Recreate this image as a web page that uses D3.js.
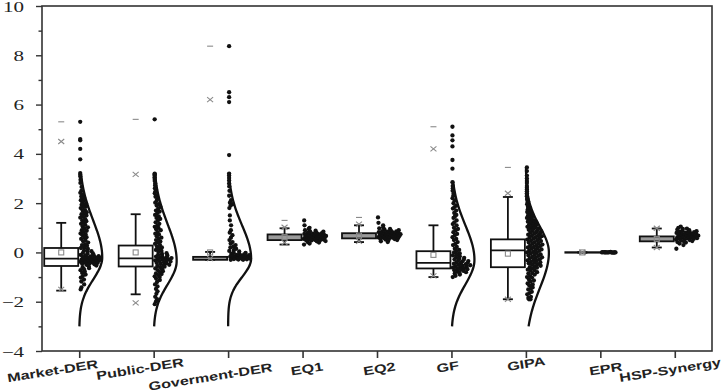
<!DOCTYPE html>
<html>
<head>
<meta charset="utf-8">
<script src="https://cdn.jsdelivr.net/npm/d3@7"></script>
<style>
  body { margin: 0; background: #fff; }
  svg { display: block; }
</style>
</head>
<body>
<div id="chart"></div>
<script>
// ---- data ----
const categories = ["Market-DER", "Public-DER", "Goverment-DER", "EQ1", "EQ2", "GF", "GIPA", "EPR", "HSP-Synergy"];
const yTickValues = [-4, -2, 0, 2, 4, 6, 8, 10];

// box statistics
const q1          = [-0.55, -0.57, -0.30, 0.50, 0.57, -0.65, -0.60, -0.01, 0.45];
const medians     = [-0.25, -0.24, -0.25, 0.62, 0.68, -0.42, 0.08, 0.00, 0.55];
const q3          = [0.18, 0.28, -0.18, 0.73, 0.78, 0.05, 0.53, 0.01, 0.65];
const whiskerLow  = [-1.55, -1.70, -0.30, 0.32, 0.42, -1.00, -1.90, -0.01, 0.20];
const whiskerHigh = [1.20, 1.55, 0.02, 0.98, 1.10, 1.10, 2.25, 0.01, 0.97];
const means       = [0.00, 0.00, 0.00, 0.62, 0.68, -0.10, -0.05, 0.00, 0.55];
const pctLow      = [-1.50, -2.05, -0.25, 0.40, 0.45, -0.95, -1.90, 0.00, 0.20];
const pctHigh     = [4.50, 3.17, 6.20, 1.02, 1.15, 4.20, 2.40, 0.00, 0.98];
const maxValues   = [5.30, 5.40, 8.37, 1.30, 1.42, 5.10, 3.45, 0.01, 1.00];

// normal curves (only the wide distributions have one)
const curveMean   = [-0.20, -0.35, -0.25, null, null, -0.30, 0.00, null, null];
const curveSdUp   = [1.50, 1.50, 1.35, null, null, 1.40, 1.05, null, null];
const curveSdDown = [0.90, 0.95, 0.75, null, null, 1.00, 1.45, null, null];
const curveTop    = [3.20, 3.25, 3.25, null, null, 2.90, 3.45, null, null];
const curveBottom = -3;

// individual observations
const marketPoints = [5.3, 4.6, 4.55, 4.2, 3.78, 3.22, 3.15, 3.08, 2.95, 2.82, 2.66, 2.5, 2.42, 2.35, 2.27, 2.22, 2.2, 2.12, 2.1, 2.05, 1.98, 1.95, 1.93, 1.86, 1.84, 1.8, 1.72, 1.7, 1.63, 1.58, 1.55, 1.5, 1.44, 1.41, 1.35, 1.3, 1.27, 1.2, 1.16, 1.12, 1.05, 1.02, 0.98, 0.9, 0.88, 0.84, 0.77, 0.74, 0.7, 0.62, 0.6, 0.55, 0.48, 0.45, 0.4, 0.33, 0.3, 0.27, 0.2, 0.18, 0.14, 0.08, 0.05, 0.03, -0.02, -0.04, -0.06, -0.1, -0.11, -0.12, -0.15, -0.16, -0.18, -0.2, -0.21, -0.22, -0.24, -0.25, -0.26, -0.28, -0.29, -0.3, -0.31, -0.32, -0.33, -0.35, -0.36, -0.37, -0.38, -0.4, -0.41, -0.42, -0.44, -0.46, -0.48, -0.5, -0.53, -0.56, -0.6, -0.64, -0.68, -0.72, -0.78, -0.83, -0.9, -0.96, -1.02, -1.1, -1.18, -1.3, -1.42, -1.5];
const publicPoints = [5.4, 3.2, 3.17, 3.12, 3.05, 2.98, 2.9, 2.8, 2.72, 2.6, 2.55, 2.48, 2.4, 2.3, 2.26, 2.18, 2.1, 2.02, 1.96, 1.9, 1.85, 1.78, 1.7, 1.66, 1.6, 1.52, 1.46, 1.4, 1.36, 1.3, 1.22, 1.16, 1.1, 1.04, 1.0, 0.94, 0.9, 0.82, 0.76, 0.72, 0.66, 0.6, 0.55, 0.5, 0.44, 0.4, 0.35, 0.3, 0.24, 0.2, 0.15, 0.1, 0.06, 0.02, -0.03, -0.06, -0.1, -0.12, -0.15, -0.17, -0.2, -0.21, -0.23, -0.25, -0.27, -0.28, -0.3, -0.32, -0.33, -0.35, -0.37, -0.4, -0.42, -0.44, -0.46, -0.5, -0.52, -0.55, -0.58, -0.6, -0.65, -0.68, -0.72, -0.76, -0.8, -0.85, -0.88, -0.92, -0.97, -1.0, -1.06, -1.12, -1.2, -1.3, -1.38, -1.48, -1.58, -1.68, -1.8, -1.9, -2.0, -2.1];
const govPoints = [8.37, 6.5, 6.3, 6.1, 3.95, 3.2, 3.12, 3.02, 2.92, 2.8, 2.68, 2.5, 2.3, 2.12, 2.02, 1.96, 1.9, 1.8, 1.5, 1.3, 1.1, 0.9, 0.8, 0.7, 0.6, 0.5, 0.42, 0.36, 0.3, 0.24, 0.2, 0.15, 0.1, 0.06, 0.04, 0.0, -0.02, -0.05, -0.06, -0.08, -0.1, -0.11, -0.12, -0.14, -0.15, -0.16, -0.18, -0.19, -0.2, -0.21, -0.22, -0.23, -0.24, -0.25, -0.25, -0.26, -0.27, -0.28, -0.29, -0.3, -0.3];
const eq1Points = [1.3, 1.1, 1.0, 0.95, 0.9, 0.88, 0.85, 0.84, 0.8, 0.79, 0.78, 0.76, 0.75, 0.74, 0.73, 0.72, 0.71, 0.7, 0.69, 0.68, 0.67, 0.66, 0.65, 0.64, 0.63, 0.62, 0.61, 0.6, 0.6, 0.59, 0.58, 0.57, 0.56, 0.55, 0.54, 0.53, 0.52, 0.51, 0.5, 0.49, 0.48, 0.46, 0.45, 0.42, 0.4, 0.36, 0.32];
const eq2Points = [1.42, 1.2, 1.1, 1.02, 0.98, 0.95, 0.92, 0.9, 0.88, 0.86, 0.85, 0.84, 0.82, 0.81, 0.8, 0.79, 0.78, 0.77, 0.76, 0.75, 0.74, 0.73, 0.72, 0.71, 0.7, 0.69, 0.68, 0.67, 0.66, 0.65, 0.64, 0.63, 0.62, 0.61, 0.6, 0.59, 0.58, 0.57, 0.55, 0.54, 0.52, 0.5, 0.48, 0.45, 0.42];
const gfPoints = [5.1, 4.75, 4.55, 4.3, 3.75, 3.4, 2.85, 2.7, 2.6, 2.5, 2.4, 2.3, 2.2, 2.1, 2.0, 1.9, 1.84, 1.78, 1.7, 1.6, 1.52, 1.45, 1.4, 1.3, 1.22, 1.15, 1.1, 1.0, 0.95, 0.9, 0.82, 0.75, 0.7, 0.62, 0.55, 0.5, 0.42, 0.35, 0.3, 0.22, 0.15, 0.1, 0.05, 0.0, -0.04, -0.08, -0.12, -0.16, -0.2, -0.22, -0.25, -0.28, -0.3, -0.32, -0.35, -0.37, -0.4, -0.42, -0.44, -0.46, -0.48, -0.5, -0.52, -0.54, -0.56, -0.58, -0.6, -0.62, -0.64, -0.66, -0.68, -0.7, -0.72, -0.75, -0.78, -0.8, -0.83, -0.86, -0.9, -0.95, -1.0];
const gipaPoints = [3.45, 3.3, 3.12, 3.0, 2.9, 2.82, 2.7, 2.62, 2.55, 2.48, 2.4, 2.33, 2.28, 2.2, 2.14, 2.08, 2.02, 1.96, 1.9, 1.85, 1.8, 1.77, 1.74, 1.7, 1.66, 1.64, 1.6, 1.57, 1.55, 1.5, 1.48, 1.46, 1.42, 1.4, 1.38, 1.33, 1.3, 1.28, 1.25, 1.22, 1.2, 1.18, 1.14, 1.12, 1.1, 1.06, 1.04, 1.02, 1.0, 0.98, 0.96, 0.92, 0.9, 0.88, 0.86, 0.82, 0.8, 0.78, 0.76, 0.72, 0.7, 0.68, 0.66, 0.62, 0.6, 0.58, 0.56, 0.52, 0.5, 0.48, 0.46, 0.42, 0.4, 0.38, 0.36, 0.32, 0.3, 0.28, 0.26, 0.22, 0.2, 0.18, 0.16, 0.12, 0.1, 0.08, 0.06, 0.02, 0.0, -0.02, -0.04, -0.08, -0.1, -0.12, -0.14, -0.18, -0.2, -0.22, -0.24, -0.28, -0.3, -0.32, -0.34, -0.38, -0.4, -0.42, -0.44, -0.48, -0.5, -0.54, -0.58, -0.6, -0.62, -0.65, -0.7, -0.72, -0.74, -0.8, -0.84, -0.86, -0.9, -0.96, -1.0, -1.02, -1.1, -1.14, -1.18, -1.26, -1.3, -1.34, -1.42, -1.46, -1.5, -1.6, -1.65, -1.7, -1.8, -1.85, -1.9, -1.9];
const eprPoints = [0.02, 0.01, 0.0, 0.0, 0.01, -0.01, 0.0, 0.0, 0.01, 0.0, -0.01, 0.0, 0.0, 0.01, 0.0, 0.0];
const hspPoints = [1.05, 1.0, 0.97, 0.95, 0.92, 0.9, 0.88, 0.86, 0.85, 0.83, 0.82, 0.8, 0.79, 0.78, 0.76, 0.75, 0.74, 0.72, 0.71, 0.7, 0.68, 0.67, 0.66, 0.65, 0.64, 0.62, 0.61, 0.6, 0.58, 0.57, 0.56, 0.55, 0.53, 0.52, 0.5, 0.48, 0.46, 0.44, 0.42, 0.4, 0.36, 0.3, 0.15];
const pointSets = [marketPoints, publicPoints, govPoints, eq1Points, eq2Points, gfPoints, gipaPoints, eprPoints, hspPoints];

// ---- layout ----
const W = 726, H = 392;
const plot = {left: 42, right: 712, top: 6, bottom: 351};
const box = {offset: 18, half: 17, cap: 5};
const curvePeak = 23;
const cloudMax = 23;        // widest a point cloud gets when there is no curve
const dotR = 2.15;
const grey = "#8a8a8a";
// the x labels are placed a little unevenly in the original
const labelDx = [-26, -13, -17, 5, 3, -3, 1, 6, -4];
const labelDy = [0, -2, 6, -2, -2, -4, -7, -2, -1];

const x = d3.scalePoint().domain(categories).range([plot.left, plot.right]).padding(0.5);
const y = d3.scaleLinear().domain([-4, 10]).range([plot.bottom, plot.top]);

const svg = d3.select("#chart").append("svg")
    .attr("width", W).attr("height", H)
    .attr("viewBox", `0 0 ${W} ${H}`);

/* Frame */
svg.append("rect")
    .attr("x", plot.left).attr("y", plot.top)
    .attr("width", plot.right - plot.left).attr("height", plot.bottom - plot.top)
    .attr("fill", "none").attr("stroke", "#333").attr("stroke-width", 1.6);

/* Y axis: ticks outward, minor ticks at odd values */
svg.append("g")
    .attr("transform", `translate(${plot.left},0)`)
    .call(d3.axisLeft(y).tickValues(d3.range(-3, 10, 2)).tickSize(3.5).tickFormat(""))
    .call(g => g.select(".domain").remove())
    .call(g => g.selectAll("line").attr("stroke", "#333").attr("stroke-width", 1.4));
let yAxis = svg.append("g")
    .attr("transform", `translate(${plot.left},0)`)
    .call(d3.axisLeft(y).tickValues(yTickValues).tickSize(6).tickFormat(d => d < 0 ? "\u2212" + (-d) : d));
yAxis.select(".domain").remove();
yAxis.selectAll("line").attr("stroke", "#333").attr("stroke-width", 1.4);
yAxis.selectAll("text")
    .attr("x", null).attr("dy", null)
    .attr("transform", `translate(-18,5)scale(1.45,1)`)
    .style("font-family", "'Liberation Serif', 'DejaVu Serif', serif")
    .style("font-size", "14.5px")
    .attr("fill", "#222")
    .attr("text-anchor", "end");

/* X axis ticks and labels */
let xAxis = svg.append("g")
    .attr("transform", `translate(0,${plot.bottom})`)
    .call(d3.axisBottom(x).tickSize(7).tickFormat(""));
xAxis.select(".domain").remove();
xAxis.selectAll("line").attr("stroke", "#333").attr("stroke-width", 1.6);

svg.append("g").selectAll("text")
    .data(categories)
    .join("text")
    .attr("transform", (d, i) => `translate(${x(d) + labelDx[i]},${375 + labelDy[i]}) rotate(-9) scale(1.35,1)`)
    .attr("text-anchor", "middle")
    .style("font-family", "'Liberation Sans', Arial, sans-serif")
    .style("font-weight", "bold")
    .style("font-size", "12px")
    .attr("fill", "#222")
    .text(d => d);

/* Normal curves */
let curveOffset = (i, v) => {
    const m = curveMean[i];
    const s = v >= m ? curveSdUp[i] : curveSdDown[i];
    return curvePeak * Math.exp(-((v - m) ** 2) / (2 * s * s));
};
const curveLine = d3.line().x(d => d[0]).y(d => d[1]).curve(d3.curveBasis);
categories.forEach((c, i) => {
    if (curveMean[i] === null) return;
    const vals = d3.range(curveBottom, curveTop[i], 0.05).concat([curveTop[i]]);
    svg.append("path")
        .attr("d", curveLine(vals.map(v => [x(c) + curveOffset(i, v), y(v)])))
        .attr("fill", "none")
        .attr("stroke", "#111")
        .attr("stroke-width", 2.3);
});

/* Scatter points: spread sideways by how crowded their neighbourhood is */
let spreadPoints = (i) => {
    const vals = pointSets[i];
    const py = vals.map(v => y(v));
    return vals.map((v, j) => {
        const crowd = py.filter(p => Math.abs(p - py[j]) < 5).length - 1;
        const limit = curveMean[i] === null ? cloudMax : Math.max(0, curveOffset(i, v) - 2);
        const w = Math.min(limit, crowd * 1.0);
        const frac = ((j + 1) * 0.6180339887) % 1;
        return {x: frac * w, y: py[j]};
    });
};
categories.forEach((c, i) => {
    svg.append("g").selectAll("circle")
        .data(spreadPoints(i))
        .join("circle")
        .attr("cx", d => x(c) + 1 + d.x)
        .attr("cy", d => d.y)
        .attr("r", dotR)
        .attr("fill", "#111");
});

/* Boxes */
categories.forEach((c, i) => {
    const cx = x(c) - box.offset;
    const thin = y(q1[i]) - y(q3[i]) < 6;
    const g = svg.append("g").attr("stroke", "#111").attr("stroke-width", 1.8);
    // whiskers
    g.append("line").attr("x1", cx).attr("x2", cx).attr("y1", y(q3[i])).attr("y2", y(whiskerHigh[i]));
    g.append("line").attr("x1", cx).attr("x2", cx).attr("y1", y(q1[i])).attr("y2", y(whiskerLow[i]));
    g.append("line").attr("x1", cx - box.cap).attr("x2", cx + box.cap).attr("y1", y(whiskerHigh[i])).attr("y2", y(whiskerHigh[i]));
    g.append("line").attr("x1", cx - box.cap).attr("x2", cx + box.cap).attr("y1", y(whiskerLow[i])).attr("y2", y(whiskerLow[i]));
    g.append("rect")
        .attr("x", cx - box.half).attr("width", 2 * box.half)
        .attr("y", y(q3[i])).attr("height", Math.max(0.5, y(q1[i]) - y(q3[i])))
        .attr("fill", thin ? "#9a9a9a" : "#fff");
    if (!thin) {
        g.append("line").attr("x1", cx - box.half).attr("x2", cx + box.half).attr("y1", y(medians[i])).attr("y2", y(medians[i]));
    }

    // mean square, percentile crosses, max dash
    const m = svg.append("g").attr("stroke", grey).attr("stroke-width", 1.1).attr("fill", "none");
    m.append("rect").attr("x", cx - 2.5).attr("y", y(means[i]) - 2.5).attr("width", 5).attr("height", 5).attr("fill", thin ? "none" : "#fff");
    [pctLow[i], pctHigh[i]].forEach(v => {
        m.append("path").attr("d", `M${cx - 3},${y(v) - 2.5}L${cx + 3},${y(v) + 2.5}M${cx - 3},${y(v) + 2.5}L${cx + 3},${y(v) - 2.5}`);
    });
    m.append("line").attr("x1", cx - 3).attr("x2", cx + 3).attr("y1", y(maxValues[i])).attr("y2", y(maxValues[i]));
});
</script>
</body>
</html>
